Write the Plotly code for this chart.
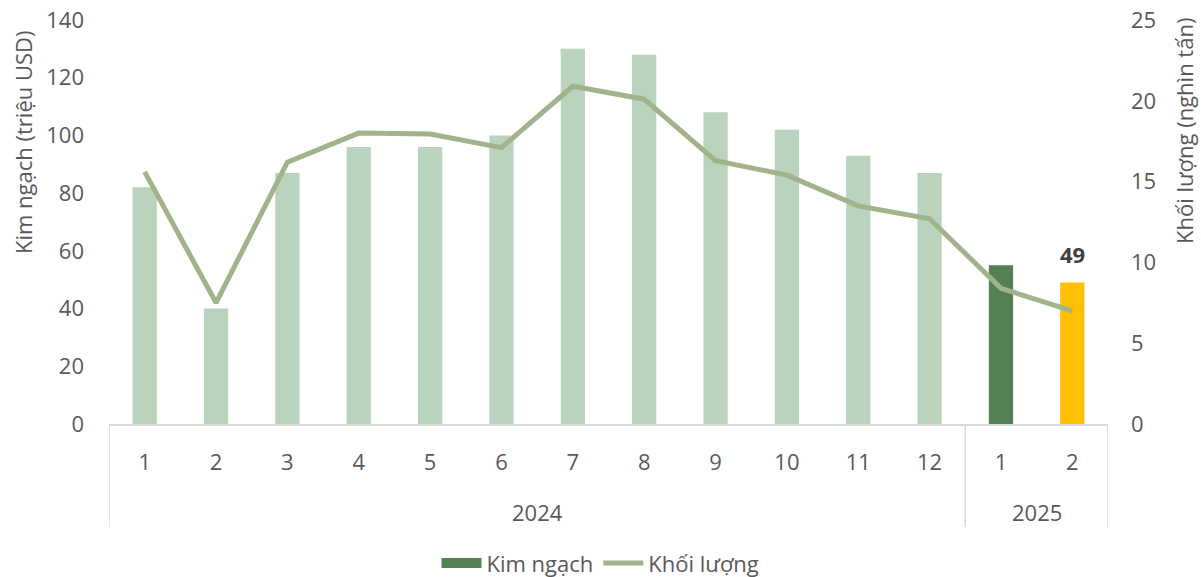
import plotly.graph_objects as go

years = ["2024"] * 12 + ["2025"] * 2
months = ["1", "2", "3", "4", "5", "6", "7", "8", "9", "10", "11", "12", "1", "2"]
kim_ngach = [82, 40, 87, 96, 96, 100, 130, 128, 108, 102, 93, 87, 55, 49]
khoi_luong = [15.6, 7.5, 16.2, 18.0, 17.95, 17.1, 20.9, 20.1, 16.3, 15.4, 13.5, 12.7, 8.4, 7.0]
left_ticks = [0, 20, 40, 60, 80, 100, 120, 140]
right_ticks = [0, 5, 10, 15, 20, 25]

light = "#B9D3BD"
dark = "#548056"
yellow = "#FFC000"
line_c = "#A0B38A"
bar_colors = [light] * (len(months) - 2) + [dark, yellow]

font = "Open Sans, Liberation Sans, sans-serif"
txt = "#595959"
grid_c = "#D9D9D9"
FS = 22

xpos = list(range(len(months)))

fig = go.Figure()
fig.add_trace(go.Bar(
    x=xpos, y=kim_ngach, name="Kim ngạch", width=0.34,
    marker=dict(color=bar_colors, line=dict(width=0)),
    showlegend=False,
))
# legend proxy for bars (rectangular swatch)
fig.add_trace(go.Scatter(
    x=[None], y=[None], name="Kim ngạch", mode="lines",
    line=dict(color=dark, width=16), showlegend=True,
))
fig.add_trace(go.Scatter(
    x=xpos, y=khoi_luong, name="Khối lượng", yaxis="y2",
    mode="lines", line=dict(color=line_c, width=5), cliponaxis=False,
))

# year group labels and dividers
groups = []
for i, yv in enumerate(years):
    if not groups or groups[-1][0] != yv:
        groups.append([yv, i, i])
    else:
        groups[-1][2] = i

shapes = []
annotations = []
for yv, s, e in groups:
    annotations.append(dict(
        x=(s + e) / 2, xref="x", y=-0.218, yref="paper", text=yv,
        showarrow=False, font=dict(size=FS, color=txt), yanchor="middle",
    ))
bounds = [groups[0][1] - 0.5] + [g[2] + 0.5 for g in groups]
for b in bounds:
    shapes.append(dict(
        type="line", xref="x", yref="paper", x0=b, x1=b, y0=0, y1=-0.255,
        line=dict(color=grid_c, width=1.5),
    ))

# data label on last bar
annotations.append(dict(
    x=xpos[-1], xref="x", y=kim_ngach[-1], yref="y", text="<b>%d</b>" % kim_ngach[-1],
    showarrow=False, yanchor="bottom", yshift=12,
    font=dict(size=FS, color="#404040"),
))

annotations.append(dict(
    x=-0.0861, xref="paper", y=0.698, yref="paper", text="Kim ngạch (triệu USD)",
    textangle=-90, showarrow=False, font=dict(size=FS, color=txt),
    xanchor="center", yanchor="middle",
))
annotations.append(dict(
    x=1.076, xref="paper", y=0.725, yref="paper", text="Khối lượng (nghìn tấn)",
    textangle=-90, showarrow=False, font=dict(size=FS, color=txt),
    xanchor="center", yanchor="middle",
))

fig.update_layout(
    width=1201, height=577,
    margin=dict(l=109, r=93, t=20, b=153, autoexpand=False),
    paper_bgcolor="white", plot_bgcolor="white",
    font=dict(family=font, size=FS, color=txt),
    xaxis=dict(
        range=[-0.5, len(months) - 0.5],
        tickvals=xpos, ticktext=months,
        showline=True, linecolor=grid_c, linewidth=1.5,
        showgrid=False, zeroline=False, ticks="",
        ticklabelstandoff=18, ticklabeloverflow="allow",
        tickfont=dict(size=FS, color=txt),
    ),
    yaxis=dict(
        range=[0, 140], tickvals=left_ticks,
        showgrid=False, showline=False, zeroline=False,
        ticklabelstandoff=24, ticklabeloverflow="allow",
        tickfont=dict(size=FS, color=txt),
    ),
    yaxis2=dict(
        range=[0, 25], tickvals=right_ticks,
        overlaying="y", side="right",
        showgrid=False, showline=False, zeroline=False,
        ticklabelstandoff=22, ticklabeloverflow="allow",
        tickfont=dict(size=FS, color=txt),
    ),
    legend=dict(
        orientation="h", x=0.5, xanchor="center",
        xref="container", yref="container", y=0.024, yanchor="middle",
        font=dict(size=FS, color=txt), traceorder="normal",
        itemwidth=40,
    ),
    shapes=shapes,
    annotations=annotations,
    showlegend=True,
)

fig.write_html(
    "out.html",
    config={"displayModeBar": False},
    post_script="document.body.style.margin='0';document.body.style.overflow='hidden';",
)
